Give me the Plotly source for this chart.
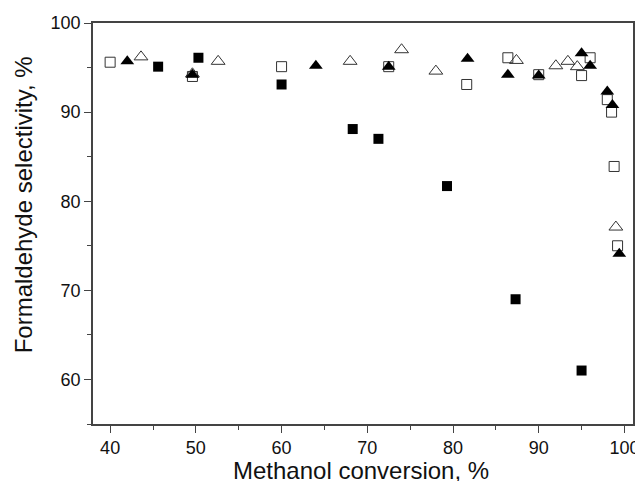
import plotly.graph_objects as go

# Open squares
sq_open_x = [40.0, 49.6, 60.0, 72.5, 81.6, 86.4, 90.0, 95.0, 96.0, 98.0, 98.5, 98.8, 99.2]
sq_open_y = [95.6, 94.0, 95.1, 95.1, 93.1, 96.1, 94.2, 94.1, 96.1, 91.4, 90.0, 83.9, 75.0]

# Filled squares
sq_fill_x = [45.6, 50.3, 60.0, 68.3, 71.3, 79.3, 87.3, 95.0]
sq_fill_y = [95.1, 96.1, 93.1, 88.1, 87.0, 81.7, 69.0, 61.0]

# Open triangles
tr_open_x = [43.6, 49.6, 52.6, 68.0, 74.0, 78.0, 87.4, 92.0, 93.4, 94.5, 99.0]
tr_open_y = [96.2, 94.3, 95.7, 95.7, 97.0, 94.6, 95.8, 95.2, 95.7, 95.1, 77.1]

# Filled triangles
tr_fill_x = [42.0, 49.6, 64.0, 72.5, 81.7, 86.4, 90.0, 95.0, 96.0, 98.0, 98.6, 99.4]
tr_fill_y = [95.7, 94.2, 95.2, 95.1, 96.0, 94.2, 94.1, 96.6, 95.2, 92.3, 90.8, 74.1]

x_ticks = [40, 50, 60, 70, 80, 90, 100]
y_ticks = [60, 70, 80, 90, 100]

x_title = "Methanol conversion, %"
y_title = "Formaldehyde selectivity, %"

FONT = "Arial, Liberation Sans, sans-serif"
AX = "#444444"
TXT = "#111111"

fig = go.Figure()
fig.add_trace(go.Scatter(x=sq_open_x, y=sq_open_y, mode="markers",
                         marker=dict(symbol="square-open", size=10, color="#333333",
                                     line=dict(width=1, color="#333333"))))
fig.add_trace(go.Scatter(x=tr_open_x, y=tr_open_y, mode="markers",
                         marker=dict(symbol="triangle-up-open", size=12, color="#333333",
                                     line=dict(width=1, color="#333333"))))
fig.add_trace(go.Scatter(x=sq_fill_x, y=sq_fill_y, mode="markers",
                         marker=dict(symbol="square", size=10, color="black",
                                     line=dict(width=0))))
fig.add_trace(go.Scatter(x=tr_fill_x, y=tr_fill_y, mode="markers",
                         marker=dict(symbol="triangle-up", size=12, color="black",
                                     line=dict(width=0))))

fig.update_layout(
    width=635, height=473,
    margin=dict(l=85, r=10, t=15, b=57, autoexpand=False),
    paper_bgcolor="white", plot_bgcolor="white",
    showlegend=False,
    font=dict(family=FONT, color=TXT),
    annotations=[
        dict(text=x_title, xref="paper", yref="paper", x=0.497, y=0,
             xanchor="center", yanchor="middle", yshift=-46, showarrow=False,
             font=dict(size=24, family=FONT, color=TXT)),
        dict(text=y_title, xref="paper", yref="paper", x=0, y=0.5465,
             xanchor="center", yanchor="middle", xshift=-69.5, textangle=-90,
             showarrow=False, font=dict(size=24, family=FONT, color=TXT)),
    ],
)
fig.update_xaxes(
    range=[38, 101], tickvals=x_ticks, ticktext=[str(v) for v in x_ticks],
    showgrid=False, zeroline=False, automargin=False,
    showline=True, linecolor=AX, linewidth=1.5, mirror=True,
    ticks="outside", ticklen=7, tickwidth=1.2, tickcolor=AX,
    minor=dict(ticks="outside", ticklen=4, tickwidth=1.2, tickcolor=AX, dtick=5, tick0=40),
    tickfont=dict(size=18, family=FONT, color=TXT),
)
fig.update_yaxes(
    range=[55, 100], tickvals=y_ticks, ticktext=[str(v) for v in y_ticks],
    showgrid=False, zeroline=False, automargin=False,
    showline=True, linecolor=AX, linewidth=1.5, mirror=True,
    ticks="outside", ticklen=7, tickwidth=1.2, tickcolor=AX,
    minor=dict(ticks="outside", ticklen=4, tickwidth=1.2, tickcolor=AX, dtick=5, tick0=55),
    tickfont=dict(size=18, family=FONT, color=TXT),
)

fig.write_html("out.html")
